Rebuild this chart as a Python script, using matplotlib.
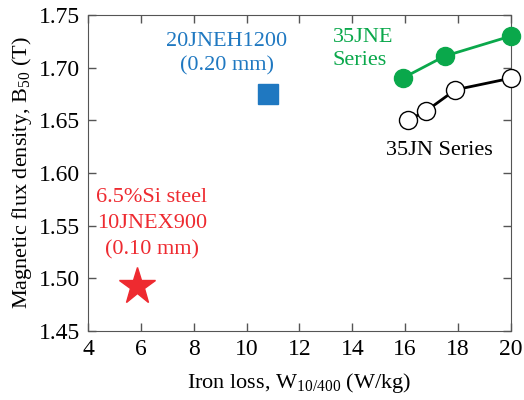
import matplotlib
matplotlib.use("Agg")
import matplotlib.pyplot as plt

plt.rcParams['font.family'] = ['Liberation Serif', 'DejaVu Serif']
plt.rcParams['mathtext.fontset'] = 'custom'
plt.rcParams['mathtext.rm'] = 'Liberation Serif'
plt.rcParams['mathtext.it'] = 'Liberation Serif'

# 35JNE series (filled green)
jne_loss = [15.9, 17.5, 20.0]
jne_b50 = [1.690, 1.711, 1.730]

# 35JN series (open black)
jn_loss = [16.1, 16.8, 17.9, 20.0]
jn_b50 = [1.650, 1.659, 1.679, 1.690]

# single grades
jneh_loss, jneh_b50 = 10.8, 1.675
jnex_loss, jnex_b50 = 5.85, 1.493

x_ticks = [4, 6, 8, 10, 12, 14, 16, 18, 20]
y_ticks = [1.45, 1.50, 1.55, 1.60, 1.65, 1.70, 1.75]

green = '#0aa84b'
blue = '#1f78c1'
red = '#ee2a30'

fig = plt.figure(figsize=(5.24, 4.0), dpi=100)
ax = fig.add_axes([0.168, 0.1725, 0.807, 0.79])

ax.plot(jne_loss, jne_b50, '-o', color=green, lw=2, ms=13,
        markerfacecolor=green, markeredgecolor=green, clip_on=False, zorder=3)
ax.plot(jn_loss, jn_b50, '-o', color='black', lw=2, ms=13,
        markerfacecolor='white', markeredgecolor='black', clip_on=False, zorder=3)
ax.plot([jneh_loss], [jneh_b50], 's', color=blue, ms=15)
ax.plot([jnex_loss], [jnex_b50], '*', color=red, ms=28)

ax.text(9.26, 1.713, '20JNEH1200\n(0.20 mm)', color=blue, fontsize=16,
        ha='center', va='center', linespacing=1.4)
ax.text(13.25, 1.718, '35JNE\nSeries', color=green, fontsize=16,
        ha='left', va='center', linespacing=1.3)
ax.text(17.3, 1.621, '35JN Series', color='black', fontsize=16,
        ha='center', va='center')
ax.text(6.42, 1.552, '6.5%Si steel\n10JNEX900\n(0.10 mm)', color=red,
        fontsize=16, ha='center', va='center', linespacing=1.5)

ax.set_xlim(4, 20)
ax.set_ylim(1.45, 1.75)
ax.set_xticks(x_ticks)
ax.set_yticks(y_ticks)
ax.set_yticklabels([f'{v:.2f}' for v in y_ticks])
ax.tick_params(direction='in', top=True, right=True, labelsize=17,
               length=6, width=1, color='#555555', pad=6)
for s in ax.spines.values():
    s.set_color('#555555')

ax.set_xlabel(r'Iron loss, W$_{10/400}$ (W/kg)', fontsize=16, labelpad=8)
ax.set_ylabel(r'Magnetic flux density, B$_{50}$ (T)', fontsize=16, labelpad=3)

fig.savefig('out.png', dpi=100)
